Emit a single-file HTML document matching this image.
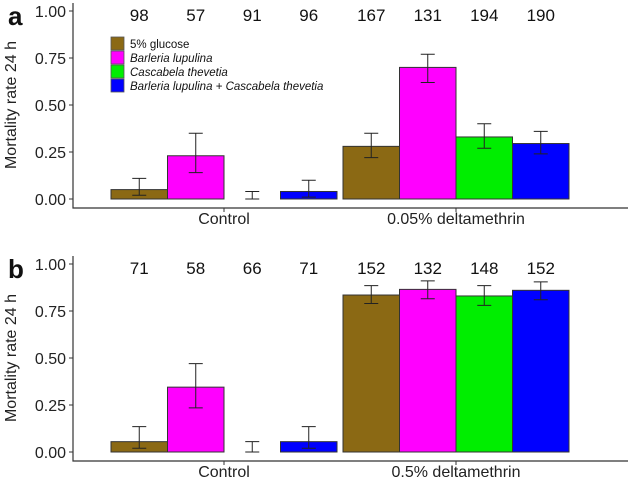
<!DOCTYPE html>
<html><head><meta charset="utf-8"><style>
html,body{margin:0;padding:0;background:#fff}
svg{display:block;font-family:"Liberation Sans",Arial,sans-serif}
</style></head><body>
<svg id="c" width="629" height="480"></svg>
<script>
const groupsA = ["Control","0.05% deltamethrin"];
const groupsB = ["Control","0.5% deltamethrin"];
const treatments = ["5% glucose","Barleria lupulina","Cascabela thevetia","Barleria lupulina + Cascabela thevetia"];
const colors = ["#8B6914","#FF00FF","#00EE00","#0000FF"];
const meanA = [[0.05,0.23,0.0,0.04],[0.28,0.70,0.33,0.295]];
const lowA  = [[0.02,0.14,0.0,0.01],[0.22,0.62,0.27,0.24]];
const highA = [[0.11,0.35,0.04,0.10],[0.35,0.77,0.40,0.36]];
const nA = [[98,57,91,96],[167,131,194,190]];
const meanB = [[0.055,0.345,0.0,0.055],[0.835,0.865,0.83,0.86]];
const lowB  = [[0.02,0.235,0.0,0.02],[0.79,0.815,0.78,0.81]];
const highB = [[0.135,0.47,0.055,0.135],[0.885,0.91,0.885,0.905]];
const nB = [[71,58,66,71],[152,132,148,152]];
const ticks = [0,0.25,0.5,0.75,1.0];
const tickLabels = ["0.00","0.25","0.50","0.75","1.00"];

const svg = document.getElementById('c');
const NS = "http://www.w3.org/2000/svg";
function mk(tag, attrs, parent, text){
  const e=document.createElementNS(NS,tag);
  for(const k in attrs) e.setAttribute(k,attrs[k]);
  if(text!==undefined) e.textContent=text;
  (parent||svg).appendChild(e); return e;
}
const groupCenters=[224,456];
const barW=56.5;

function panel(letter, top0, top1, axisBottom, groups, mean, low, high, n, pname){
  const g=mk('g',{});
  
  
  const y=v=>top0+(top1-top0)*v;
  const x=(gi,ti)=>groupCenters[gi]+(ti-2)*barW;
  const L=mk('text',{x:8,y:top1+14,'font-size':26,'font-weight':'bold',fill:'#111'},g,letter);
  
  
  const ax=mk('path',{d:`M73 ${top1-8} V${axisBottom} H628`,stroke:'#333','stroke-width':1.2,fill:'none'},g);
  
  
  ticks.forEach((t,i)=>{
    mk('line',{x1:69,x2:73,y1:y(t),y2:y(t),stroke:'#333'},g);
    const tl=mk('text',{x:66,y:y(t)+6,'font-size':16,'text-anchor':'end',fill:'#222'},g,tickLabels[i]);
    
    
  });
  const yt=mk('text',{transform:`translate(16 ${(top0+top1)/2}) rotate(-90)`,'font-size':16,'text-anchor':'middle',fill:'#222'},g,'Mortality rate 24 h');
  
  
  groups.forEach((gn,gi)=>{
    mk('line',{x1:groupCenters[gi],x2:groupCenters[gi],y1:axisBottom,y2:axisBottom+4,stroke:'#333'},g);
    const xl=mk('text',{x:groupCenters[gi],y:axisBottom+16,'font-size':16,'text-anchor':'middle',fill:'#222'},g,gn);
    
    
    treatments.forEach((t,ti)=>{
      const x0=x(gi,ti), v=mean[gi][ti];
      const r=mk('rect',{x:x0,y:y(v),width:barW,height:Math.max(0,y(0)-y(v)),fill:colors[ti],stroke:'#333','stroke-width':1},g);
      
      
      const cx=x0+barW/2;
      const e=mk('path',{d:`M${cx} ${y(low[gi][ti])} V${y(high[gi][ti])} M${cx-7} ${y(low[gi][ti])} H${cx+7} M${cx-7} ${y(high[gi][ti])} H${cx+7}`,stroke:'#222','stroke-width':1,fill:'none'},g);
      
      
      const nt=mk('text',{x:cx,y:top1+10,'font-size':17,'text-anchor':'middle',fill:'#111'},g,n[gi][ti]);
      
      
    });
  });
}
panel('a',199,11,208,groupsA,meanA,lowA,highA,nA,'panel-a');
panel('b',452,264,461,groupsB,meanB,lowB,highB,nB,'panel-b');
const lg=mk('g',{});


treatments.forEach((t,i)=>{
  const yy=37+i*14;
  mk('rect',{x:111,y:yy,width:13,height:13,fill:colors[i],stroke:'#555','stroke-width':0.8},lg);
  const tx=mk('text',{x:130,y:yy+11,'font-size':11.5,fill:'#111','font-style':i===0?'normal':'italic'},lg,t);
  
  
});
</script>
</body></html>
